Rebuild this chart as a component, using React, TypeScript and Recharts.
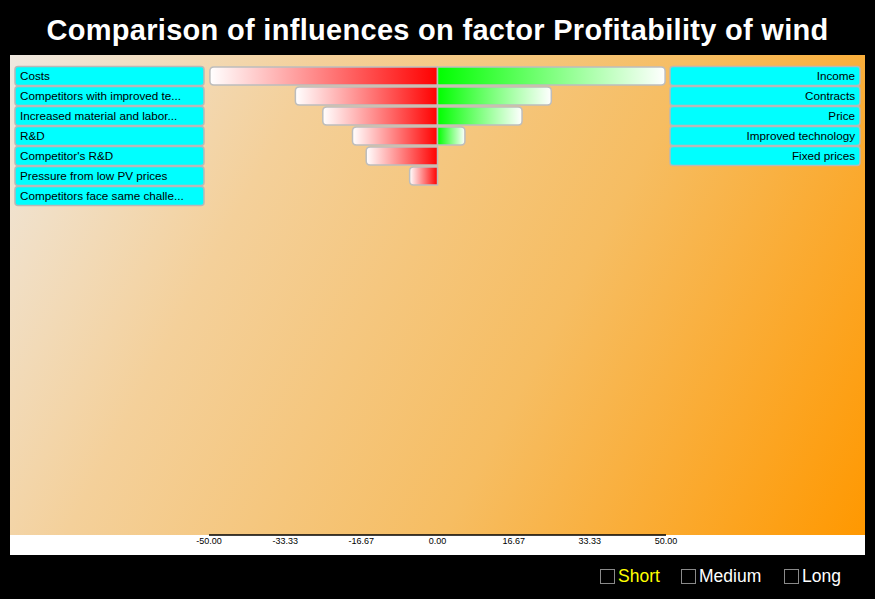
import React from 'react';
import { BarChart, Bar, XAxis, YAxis } from 'recharts';

// left column: negative influences, right column: positive influences
const negativeFactors = [
  'Costs',
  'Competitors with improved te...',
  'Increased material and labor...',
  'R&D',
  "Competitor's R&D",
  'Pressure from low PV prices',
  'Competitors face same challe...',
];
const negativeValues = [-49.8, -31.1, -25.1, -18.6, -15.6, -6.1, 0];

const positiveFactors = ['Income', 'Contracts', 'Price', 'Improved technology', 'Fixed prices'];
const positiveValues = [49.8, 24.9, 18.5, 6.0, 0];

const xTicks = [-50, -33.33, -16.67, 0, 16.67, 33.33, 50];
const periods = ['Short', 'Medium', 'Long'];

const rows = negativeFactors.map((name, i) => ({
  idx: i,
  neg: negativeValues[i],
  pos: positiveValues[i] ?? 0,
}));
const rowTicks = rows.map((r) => r.idx);

const FONT = '"Liberation Sans", Arial, Helvetica, sans-serif';

// rectangle with only the outer side rounded
const HalfRounded = (side: 'left' | 'right', fill: string) => (props: any) => {
  const { x, y, width, height } = props;
  if (!width || Math.abs(width) < 0.5) return null;
  const x0 = Math.min(x, x + width);
  const w = Math.abs(width);
  const h = height;
  const r = Math.min(4, w / 2);
  let d;
  if (side === 'left') {
    d = `M${x0 + r},${y} L${x0 + w},${y} L${x0 + w},${y + h} L${x0 + r},${y + h} Q${x0},${y + h} ${x0},${y + h - r} L${x0},${y + r} Q${x0},${y} ${x0 + r},${y} Z`;
  } else {
    d = `M${x0},${y} L${x0 + w - r},${y} Q${x0 + w},${y} ${x0 + w},${y + r} L${x0 + w},${y + h - r} Q${x0 + w},${y + h} ${x0 + w - r},${y + h} L${x0},${y + h} Z`;
  }
  return <path d={d} fill={fill} stroke="#bdbdbd" strokeWidth={1.5} />;
};

const LabelTick = (labels: string[], side: 'left' | 'right') => (props: any) => {
  const { y, payload } = props;
  const text = labels[payload.value];
  if (!text) return null;
  const bx = side === 'left' ? 5 : 660;
  const bw = side === 'left' ? 189 : 190;
  return (
    <g>
      <rect x={bx} y={y - 9.5} width={bw} height={19} rx={3} fill="#00ffff" stroke="#b8b8b8" strokeWidth={1.5} />
      <text
        x={side === 'left' ? bx + 5 : bx + bw - 5}
        y={y + 4}
        textAnchor={side === 'left' ? 'start' : 'end'}
        fontSize={11.7}
        fontFamily={FONT}
        fill="#000"
      >
        {text}
      </text>
    </g>
  );
};

export default function App() {
  return (
    <div style={{ position: 'fixed', left: 0, top: 0, width: 875, height: 599, background: '#000', fontFamily: FONT }}>
      <div
        style={{
          position: 'absolute',
          top: 13,
          left: 0,
          width: 875,
          textAlign: 'center',
          color: '#fff',
          fontWeight: 'bold',
          fontSize: 29,
          letterSpacing: 0.3,
          lineHeight: '34px',
        }}
      >
        Comparison of influences on factor Profitability of wind
      </div>

      <div
        style={{
          position: 'absolute',
          left: 10,
          top: 55,
          width: 855,
          height: 480,
          background: 'linear-gradient(118deg, #efe8e0 0%, #f4d09a 28%, #f6bd62 62%, #ff9800 100%)',
        }}
      />
      <div style={{ position: 'absolute', left: 10, top: 535, width: 855, height: 20, background: '#fff' }} />

      <div style={{ position: 'absolute', left: 10, top: 55 }}>
        <BarChart
          width={855}
          height={500}
          data={rows}
          layout="vertical"
          stackOffset="sign"
          margin={{ top: 11, right: 0, bottom: 0, left: 0 }}
        >
          <defs>
            <linearGradient id="redFade" x1="0" y1="0" x2="1" y2="0">
              <stop offset="0%" stopColor="#ffffff" />
              <stop offset="100%" stopColor="#ff0000" />
            </linearGradient>
            <linearGradient id="greenFade" x1="0" y1="0" x2="1" y2="0">
              <stop offset="0%" stopColor="#00ff00" />
              <stop offset="100%" stopColor="#ffffff" />
            </linearGradient>
          </defs>
          <XAxis
            type="number"
            domain={[-50, 50]}
            ticks={xTicks}
            tickFormatter={(v: number) => v.toFixed(2)}
            height={20}
            tickSize={0}
            tickMargin={3}
            axisLine={{ stroke: '#000', strokeWidth: 1.5 }}
            tickLine={false}
            tick={{ fontSize: 9, fill: '#000', fontFamily: FONT }}
            allowDataOverflow
          />
          <YAxis
            yAxisId="left"
            type="number"
            dataKey="idx"
            domain={[-0.5, 22.95]}
            ticks={rowTicks}
            interval={0}
            width={199}
            axisLine={false}
            tickLine={false}
            tick={LabelTick(negativeFactors, 'left')}
            allowDataOverflow
          />
          <YAxis
            yAxisId="right"
            orientation="right"
            type="number"
            dataKey="idx"
            domain={[-0.5, 22.95]}
            ticks={rowTicks}
            interval={0}
            width={199}
            axisLine={false}
            tickLine={false}
            tick={LabelTick(positiveFactors, 'right')}
            allowDataOverflow
          />
          <Bar
            yAxisId="left"
            dataKey="neg"
            stackId="s"
            barSize={20}
            shape={HalfRounded('left', 'url(#redFade)')}
            isAnimationActive={false}
          />
          <Bar
            yAxisId="left"
            dataKey="pos"
            stackId="s"
            barSize={20}
            shape={HalfRounded('right', 'url(#greenFade)')}
            isAnimationActive={false}
          />
        </BarChart>
      </div>

      {periods.map((p, i) => {
        const left = [600, 681, 784][i];
        return (
          <div key={p} style={{ position: 'absolute', left, top: 566, display: 'flex', alignItems: 'center' }}>
            <div style={{ width: 13, height: 13, border: '1.5px solid #8a8a8a', marginRight: 3 }} />
            <span style={{ color: i === 0 ? '#ffff00' : '#fff', fontSize: 17.5, lineHeight: '20px' }}>{p}</span>
          </div>
        );
      })}
    </div>
  );
}
